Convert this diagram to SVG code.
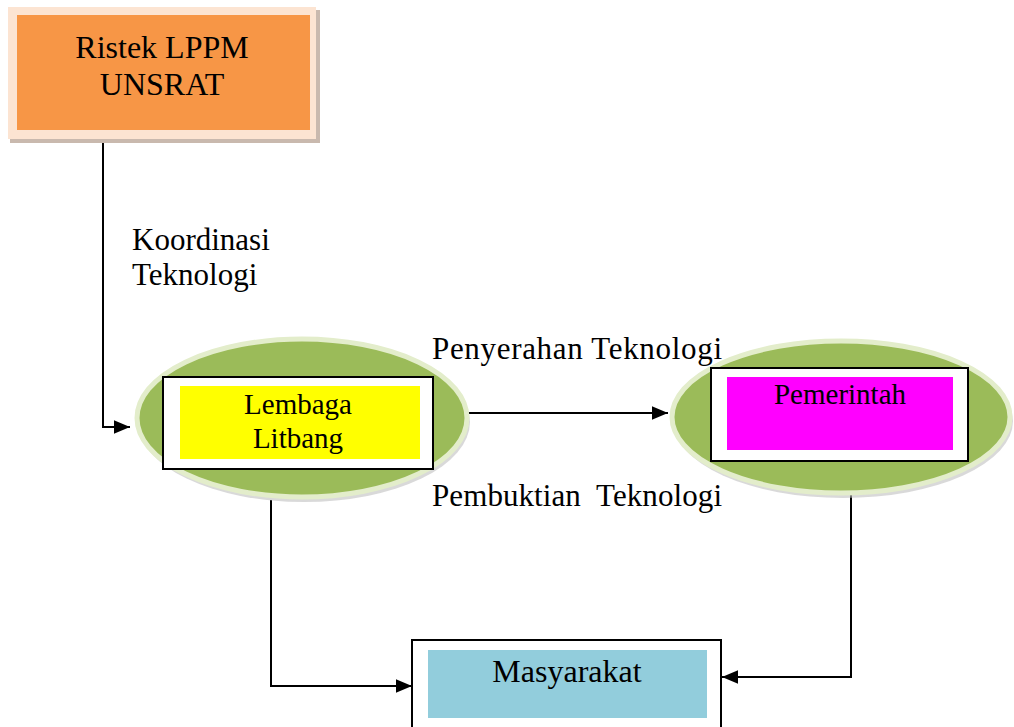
<svg xmlns="http://www.w3.org/2000/svg" width="1014" height="727" viewBox="0 0 1014 727">
<style>
text{font-family:"Liberation Serif","Times New Roman",serif;fill:#000}
.lbl{font-size:31px}
.nd{font-size:29px}
.c{text-anchor:middle}
.wire{fill:none;stroke:#000;stroke-width:2}
.ell{fill:#9BBB59;stroke:#E3EDCB;stroke-width:5}
.frame{fill:#fff;stroke:#000;stroke-width:2}
</style>
<defs>
<marker id="ahb" viewBox="0 0 14 12" refX="14" refY="6" markerWidth="16" markerHeight="14" markerUnits="userSpaceOnUse" orient="auto">
<path d="M0,0 L14,6 L0,12 z" fill="#000"/>
</marker>
</defs>
<rect width="1014" height="727" fill="#fff"/>
<g id="connectors">
<polyline class="wire" points="103,140 103,427 130,427" marker-end="url(#ahb)"/>
<line class="wire" x1="466" y1="413" x2="668" y2="413" marker-end="url(#ahb)"/>
<polyline class="wire" points="271,500 271,686 412,686" marker-end="url(#ahb)"/>
<polyline class="wire" points="851,490 851,677 722,677" marker-end="url(#ahb)"/>
</g>
<g id="ristek">
<rect x="10" y="10" width="310" height="133" fill="#C9B9AE"/>
<rect x="8" y="7" width="308" height="132" fill="#FCE4D2"/>
<rect x="17" y="15" width="293" height="115" fill="#F79646"/>
<text x="162" y="58" class="c" font-size="32">Ristek LPPM</text>
<text x="162" y="95" class="c" font-size="32">UNSRAT</text>
</g>
<g id="koordinasi-label">
<text x="132" y="250" class="lbl">Koordinasi</text>
<text x="132" y="285" class="lbl">Teknologi</text>
</g>
<g id="lembaga">
<ellipse cx="304" cy="422" rx="166" ry="80" fill="#BFBFBF" opacity="0.6"/>
<ellipse class="ell" cx="302" cy="418" rx="165" ry="79"/>
<rect class="frame" x="163" y="377" width="270" height="92"/>
<rect x="180" y="386" width="240" height="73" fill="#FFFF00"/>
<text x="298" y="414" class="nd c">Lembaga</text>
<text x="298" y="448" class="nd c">Litbang</text>
</g>
<g id="pemerintah">
<ellipse cx="843" cy="421" rx="170" ry="77" fill="#BFBFBF" opacity="0.6"/>
<ellipse class="ell" cx="841" cy="417" rx="169" ry="76"/>
<rect class="frame" x="711" y="368" width="257" height="93"/>
<rect x="727" y="377" width="226" height="73" fill="#FF00FF"/>
<text x="840" y="404" class="nd c">Pemerintah</text>
</g>
<g id="flow-labels">
<text x="432" y="359" class="lbl" textLength="290">Penyerahan Teknologi</text>
<text x="432" y="506" class="lbl" xml:space="preserve" textLength="290">Pembuktian  Teknologi</text>
</g>
<g id="masyarakat">
<rect class="frame" x="412" y="640" width="309" height="100"/>
<rect x="428" y="650" width="279" height="68" fill="#92CDDC"/>
<text x="567" y="682" class="c" font-size="32">Masyarakat</text>
</g>
</svg>
